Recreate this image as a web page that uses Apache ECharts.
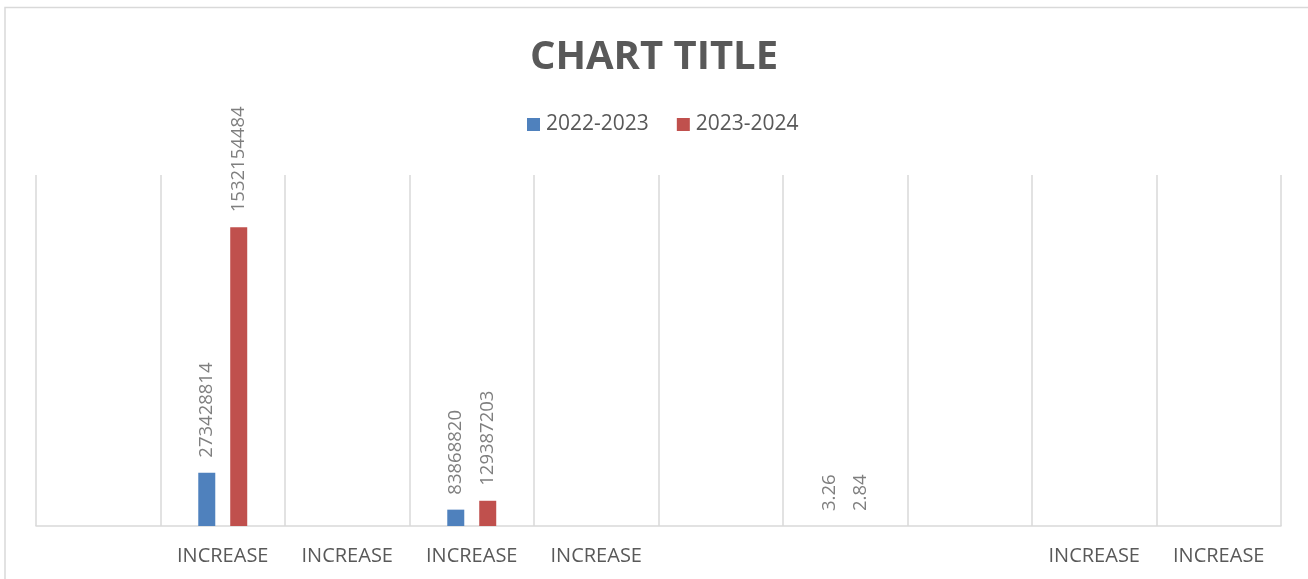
<!DOCTYPE html>
<html>
<head>
<meta charset="utf-8">
<script src="https://cdn.jsdelivr.net/npm/echarts@6/dist/echarts.min.js"></script>
<style>
html,body{margin:0;padding:0;background:#fff;}
#chart{width:1308px;height:579px;}
</style>
</head>
<body>
<div id="chart"></div>
<script>
const titleText = 'CHART TITLE';
const categories = ['', 'INCREASE', 'INCREASE', 'INCREASE', 'INCREASE', '', '', '', 'INCREASE', 'INCREASE'];
const seriesNames = ['2022-2023', '2023-2024'];
const values2022 = [null, 273428814, null, 83868820, null, null, 3.26, null, null, null];
const values2023 = [null, 1532154484, null, 129387203, null, null, 2.84, null, null, null];
const colors = ['#4F81BD', '#C0504D'];

const chart = echarts.init(document.getElementById('chart'), null, {renderer: 'canvas'});

const labelOpt = {
  show: true,
  position: 'top',
  rotate: 90,
  align: 'left',
  verticalAlign: 'middle',
  distance: 15,
  color: '#7F7F7F',
  fontFamily: 'Open Sans',
  fontSize: 18.5
};

chart.setOption({
  animation: false,
  backgroundColor: '#ffffff',
  color: colors,
  title: {
    text: titleText,
    left: 'center',
    top: 33,
    textStyle: {fontFamily: 'Open Sans', fontWeight: 'bold', fontSize: 40, color: '#595959'}
  },
  legend: {
    data: seriesNames,
    left: 522,
    top: 109,
    itemWidth: 13,
    itemHeight: 13,
    itemGap: 28,
    icon: 'rect',
    textStyle: {fontFamily: 'Open Sans', fontSize: 21, color: '#595959', padding: [0, 0, 0, 1]}
  },
  graphic: [{
    type: 'rect',
    shape: {x: 5, y: 7.5, width: 1400, height: 700},
    style: {fill: 'none', stroke: '#D9D9D9', lineWidth: 1.5},
    silent: true
  }],
  grid: {left: 36, right: 27, top: 175, bottom: 53, containLabel: false},
  xAxis: {
    type: 'category',
    data: categories,
    boundaryGap: true,
    axisLine: {show: true, lineStyle: {color: '#D9D9D9', width: 1.5}},
    axisTick: {show: false},
    splitLine: {show: true, lineStyle: {color: '#D9D9D9', width: 1.5}},
    axisLabel: {interval: 0, margin: 20, color: '#595959', fontFamily: 'Open Sans', fontSize: 20}
  },
  yAxis: {
    type: 'value',
    min: 0,
    max: 1800000000,
    show: false
  },
  series: [
    {name: seriesNames[0], type: 'bar', data: values2022, barWidth: 17, barGap: '88%', label: labelOpt},
    {name: seriesNames[1], type: 'bar', data: values2023, barWidth: 17, barGap: '88%', label: labelOpt}
  ]
});
</script>
</body>
</html>
